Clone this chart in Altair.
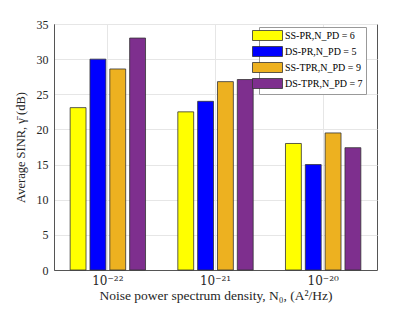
import altair as alt
import pandas as pd

groups = ["1e-22", "1e-21", "1e-20"]
group_labels = ["10⁻²²", "10⁻²¹", "10⁻²⁰"]
series = ["SS-PR,N_PD = 6", "DS-PR,N_PD = 5", "SS-TPR,N_PD = 9", "DS-TPR,N_PD = 7"]
colors = ["#FFFF00", "#0000FF", "#EDB120", "#7E2F8E"]
values = {
    "SS-PR,N_PD = 6": [23.1, 22.5, 18.0],
    "DS-PR,N_PD = 5": [30.0, 24.0, 15.0],
    "SS-TPR,N_PD = 9": [28.6, 26.8, 19.5],
    "DS-TPR,N_PD = 7": [33.0, 27.1, 17.4],
}

rows = []
for s in series:
    for g, lab, v in zip(groups, group_labels, values[s]):
        rows.append({"group": lab, "series": s, "value": v})
df = pd.DataFrame(rows)

FONT = "'Times New Roman', 'Liberation Serif', 'DejaVu Serif', serif"

chart = alt.Chart(df).mark_bar(stroke="#333333", strokeWidth=0.8).encode(
    x=alt.X("group:N", sort=group_labels,
            scale=alt.Scale(paddingInner=0.3, paddingOuter=0.15),
            axis=alt.Axis(title="Noise power spectrum density, N₀, (A²/Hz)",
                          labelAngle=0, grid=True, ticks=False, labelPadding=5,
                          labelFont="DejaVu Serif", labelFontSize=12,
                          titleFontSize=13.5, titlePadding=2)),
    xOffset=alt.XOffset("series:N", sort=series,
                        scale=alt.Scale(paddingInner=0.2, paddingOuter=0)),
    y=alt.Y("value:Q", scale=alt.Scale(domain=[0, 35]),
            axis=alt.Axis(title="Average SINR, γ̄ (dB)", values=[0, 5, 10, 15, 20, 25, 30, 35],
                          grid=True, ticks=False, labelPadding=6, titlePadding=9,
                          titleFontSize=12.5)),
    color=alt.Color("series:N", sort=series,
                    scale=alt.Scale(domain=series, range=colors),
                    legend=alt.Legend(title=None, orient="none", legendX=205, legendY=3,
                                      symbolType="M-3,-1H3V1H-3Z",
                                      symbolSize=100, symbolStrokeColor="#333333",
                                      symbolStrokeWidth=0.8, symbolOpacity=1,
                                      fillColor="white", strokeColor="#999999",
                                      padding=3, rowPadding=1, labelOffset=12,
                                      labelFont=FONT, labelFontSize=10, labelColor="black")),
).properties(
    width=323, height=246,
    autosize=alt.AutoSizeParams(type="none"),
    padding={"left": 46, "top": 16, "right": 30, "bottom": 34},
).configure_view(
    stroke="#555555", strokeWidth=1
).configure_axis(
    labelFont=FONT, titleFont=FONT, labelFontSize=12, titleFontSize=12,
    labelColor="#262626", titleColor="#262626", titleFontWeight="normal",
    domainColor="#555555", gridColor="#e6e6e6",
)

chart.save("out.html", embed_options={"renderer": "svg", "actions": False})
